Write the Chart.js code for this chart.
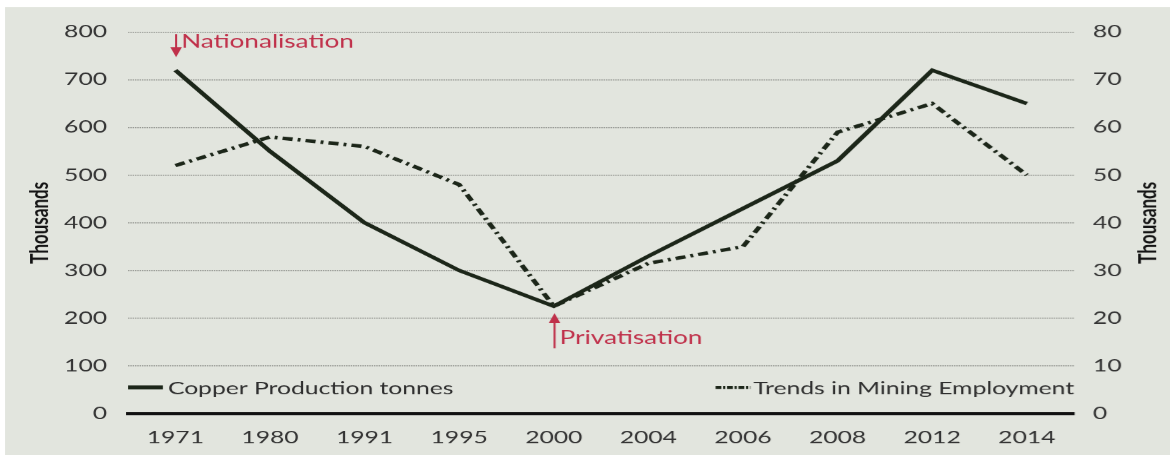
<!DOCTYPE html>
<html>
<head>
<meta charset="utf-8">
<script src="https://cdn.jsdelivr.net/npm/chart.js@4.4.1/dist/chart.umd.min.js"></script>
<style>
  html, body { margin: 0; padding: 0; background: #ffffff; overflow: hidden; }
  #wrap { width: 1170px; height: 455px; overflow: hidden; }
  #c { display: block; transform-origin: 0 0; }
</style>
</head>
<body>
<div id="wrap"><canvas id="c" width="807" height="455"></canvas></div>
<script>
// ---- data ----
const categories = ['1971','1980','1991','1995','2000','2004','2006','2008','2012','2014'];
const copperProduction = [720, 550, 400, 300, 225, 330, 430, 530, 720, 650];      // thousands of tonnes
const miningEmployment = [52, 58, 56, 48, 22.5, 31.5, 35, 59, 65, 50];             // thousands
const leftTickValues = [0, 100, 200, 300, 400, 500, 600, 700, 800];
const rightTickValues = [0, 10, 20, 30, 40, 50, 60, 70, 80];
const seriesNames = ['Copper Production tonnes', 'Trends in Mining Employment'];
const axisTitle = 'Thousands';
const events = [
  { label: 'Nationalisation', index: 0, dir: 'down' },
  { label: 'Privatisation', index: 4, dir: 'up' }
];

// ---- look ----
const SX = 1.45;               // horizontal stretch of the reference picture
const W = 807, H = 455;
const FONT = 'Lato, "Open Sans", sans-serif';
const LINE = '#1c2619';
const RED = '#c0304a';
const TXT = '#333333';

const canvas = document.getElementById('c');
canvas.style.transform = 'scaleX(' + SX + ')';

const bgPlugin = {
  id: 'bg',
  beforeDraw(chart) {
    const ctx = chart.ctx;
    ctx.save();
    ctx.fillStyle = '#ffffff';
    ctx.fillRect(0, 0, W, H);
    ctx.fillStyle = '#e2e5de';
    ctx.fillRect(5 / SX, 7, W, H);
    ctx.restore();
  }
};

const decorPlugin = {
  id: 'decor',
  afterDraw(chart) {
    const ctx = chart.ctx;
    const ca = chart.chartArea;
    const x = chart.scales.x, yL = chart.scales.yL;
    ctx.save();
    // axis titles
    ctx.fillStyle = '#141414';
    ctx.font = 'bold 17px ' + FONT;
    ctx.textAlign = 'center';
    ctx.textBaseline = 'middle';
    const midY = (ca.top + ca.bottom) / 2;
    [[40 / SX, midY], [1148 / SX, midY]].forEach(([tx, ty]) => {
      ctx.save();
      ctx.translate(tx, ty);
      ctx.rotate(-Math.PI / 2);
      ctx.fillText(axisTitle, 0, 0);
      ctx.restore();
    });

    // legend (inside plot, bottom band)
    const ly = 387;
    ctx.font = '17px ' + FONT;
    ctx.fillStyle = '#2e2e2e';
    ctx.textBaseline = 'middle';
    ctx.strokeStyle = LINE;
    ctx.lineWidth = 4;
    ctx.beginPath();
    ctx.moveTo(ca.left, ly); ctx.lineTo(ca.left + 24, ly); ctx.stroke();
    ctx.textAlign = 'left';
    ctx.fillText(seriesNames[0], ca.left + 27.5, ly + 1);

    ctx.textAlign = 'right';
    ctx.fillText(seriesNames[1], ca.right, ly + 1);
    const tw = ctx.measureText(seriesNames[1]).width;
    const sx1 = ca.right - tw - 2;
    ctx.lineWidth = 3;
    ctx.setLineDash([4, 1.2, 1.5, 1.2]);
    ctx.beginPath();
    ctx.moveTo(sx1 - 24, ly); ctx.lineTo(sx1, ly); ctx.stroke();
    ctx.setLineDash([]);

    // event annotations
    ctx.strokeStyle = RED;
    ctx.fillStyle = RED;
    ctx.font = '18px ' + FONT;
    ctx.textAlign = 'left';
    events.forEach(ev => {
      const px = x.getPixelForValue(ev.index) + 0.5;
      const py = yL.getPixelForValue(copperProduction[ev.index]);
      let tail, tip, ty;
      if (ev.dir === 'down') {
        tip = py - 13; tail = ca.top + 2; ty = ca.top + 10;
      } else {
        tip = py + 7; tail = py + 42; ty = py + 32;
      }
      const d = ev.dir === 'down' ? -1 : 1;
      ctx.lineWidth = 1.4;
      ctx.beginPath();
      ctx.moveTo(px, tail); ctx.lineTo(px, tip + d * 6); ctx.stroke();
      ctx.beginPath();
      ctx.moveTo(px, tip);
      ctx.lineTo(px - 4, tip + d * 10);
      ctx.lineTo(px + 4, tip + d * 10);
      ctx.closePath();
      ctx.fill();
      ctx.fillText(ev.label, px + 3.5, ty);
    });
    ctx.restore();
  }
};

new Chart(canvas, {
  type: 'line',
  data: {
    labels: categories,
    datasets: [
      {
        label: seriesNames[0],
        data: copperProduction,
        yAxisID: 'yL',
        borderColor: LINE,
        borderWidth: 3.5,
        pointRadius: 0,
        tension: 0,
        fill: false,
        order: 2
      },
      {
        label: seriesNames[1],
        data: miningEmployment,
        yAxisID: 'yR',
        borderColor: LINE,
        borderWidth: 3.5,
        borderDash: [7, 3.5, 2, 3.5],
        pointRadius: 0,
        tension: 0,
        fill: false,
        order: 1
      }
    ]
  },
  options: {
    responsive: false,
    animation: false,
    devicePixelRatio: 1.45,
    layout: { padding: { top: 32, left: 0, right: 0, bottom: 0 } },
    plugins: {
      legend: { display: false },
      tooltip: { enabled: false }
    },
    scales: {
      x: {
        type: 'category',
        offset: true,
        grid: { display: false, drawTicks: false },
        border: { display: true, color: '#111111', width: 3 },
        ticks: {
          color: TXT,
          font: { family: FONT, size: 17 },
          padding: 14,
          maxRotation: 0,
          autoSkip: false
        },
        afterFit(a) { a.height = 42; }
      },
      yL: {
        type: 'linear',
        position: 'left',
        min: 0, max: 800,
        afterBuildTicks(a) { a.ticks = leftTickValues.map(v => ({ value: v })); },
        grid: {
          drawTicks: false,
          color: ctx => (ctx.tick && ctx.tick.value === 0) ? 'rgba(0,0,0,0)' : '#8f918c',
          lineWidth: 1
        },
        border: { display: false, dash: [1, 0.6] },
        ticks: {
          color: TXT,
          font: { family: FONT, size: 17 },
          padding: 14.5
        },
        afterFit(a) { a.width = 88.3; }
      },
      yR: {
        type: 'linear',
        position: 'right',
        min: 0, max: 80,
        afterBuildTicks(a) { a.ticks = rightTickValues.map(v => ({ value: v })); },
        grid: { display: false, drawTicks: false },
        border: { display: false },
        ticks: {
          color: TXT,
          font: { family: FONT, size: 17 },
          padding: 13
        },
        afterFit(a) { a.width = 66.3; }
      }
    }
  },
  plugins: [bgPlugin, decorPlugin]
});
</script>
</body>
</html>
